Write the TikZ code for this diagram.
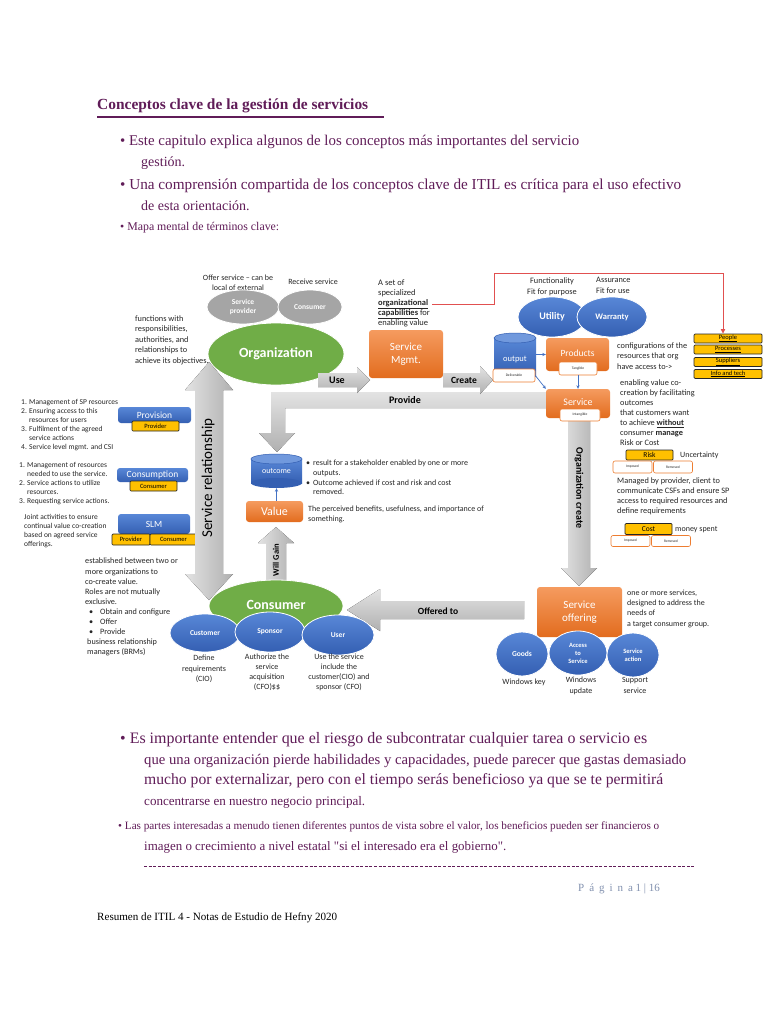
\documentclass[tikz,border=0pt]{standalone}
\usepackage{fontspec}
\setmainfont{Liberation Serif}
\setsansfont{Carlito}
\usetikzlibrary{shapes.geometric,arrows.meta}

\definecolor{tpurple}{RGB}{96,28,88}
\definecolor{ink}{RGB}{38,38,38}
\definecolor{orng}{RGB}{237,125,49}
\definecolor{orngL}{RGB}{245,155,95}
\definecolor{orngD}{RGB}{226,108,30}
\definecolor{blu}{RGB}{68,114,196}
\definecolor{bluL}{RGB}{88,135,215}
\definecolor{bluD}{RGB}{52,95,178}
\definecolor{grn}{RGB}{112,173,71}
\definecolor{gry}{RGB}{165,165,165}
\definecolor{yel}{RGB}{255,192,0}
\definecolor{pagecol}{RGB}{130,145,175}
\definecolor{redl}{RGB}{225,80,80}

\newcommand{\fw}[2]{\resizebox{#1pt}{!}{#2}}
\newcommand{\li}[1]{\makebox[8pt][l]{#1}}
\newcommand{\ind}{\hspace*{8pt}}
\newcommand{\fsz}[2]{\fontsize{#1}{#2}\selectfont}

\tikzset{
 sm/.style={inner sep=0pt, text=ink, font=\sffamily\fsz{8}{10}},
 obox/.style={rounded corners=3pt, inner sep=0pt, text=white, top color=orngL, bottom color=orngD, font=\sffamily\fsz{11}{12.5}, align=center},
 bbox/.style={rounded corners=3pt, inner sep=0pt, text=white, top color=bluL, bottom color=bluD, font=\sffamily\fsz{9.5}{11}},
 ybox/.style={fill=yel, draw=black!85, line width=0.7pt, rounded corners=1pt, inner sep=0pt, text=black, font=\sffamily\fsz{6.5}{7}},
 wbox/.style={fill=white, draw=orng, line width=0.6pt, rounded corners=2pt, inner sep=0pt, text=ink, font=\sffamily\fsz{3.6}{4}},
 bell/.style={ellipse, inner sep=0pt, top color=bluL, bottom color=bluD, draw=white, line width=0.8pt, text=white, font=\sffamily\bfseries\fsz{7.5}{9}, align=center},
 gell/.style={ellipse, inner sep=0pt, fill=gry, draw=white, line width=0.8pt, text=white, font=\sffamily\bfseries\fsz{7.5}{9}, align=center},
 grell/.style={ellipse, inner sep=0pt, fill=grn, draw=white, line width=0.8pt, text=white, font=\sffamily\bfseries\fsz{14}{16}},
 harr/.style={top color=gray!22, bottom color=gray!62, draw=none},
 varr/.style={left color=gray!22, right color=gray!62, draw=none},
 alab/.style={inner sep=0pt, text=black, font=\sffamily\bfseries\fsz{10}{11}},
 barr/.style={-{Stealth[length=3.5pt,width=3.2pt]}, draw=blu, line width=0.7pt},
 ser/.style={inner sep=0pt, text=tpurple, anchor=west},
}

\begin{document}
\begin{tikzpicture}[x=1pt,y=-1pt]
\path[use as bounding box, fill=white] (0,0) rectangle (768,1024);

% ---------- top text ----------
\node[ser, font=\bfseries\fsz{14}{16}] (head) at (97,106) {\fw{271}{Conceptos clave de la gestión de servicios}};
\draw[tpurple, line width=1.3pt] (97,117) -- (384,117);
\node[ser, font=\fsz{14}{16}] (b1) at (120,142) {\fw{459}{• Este capitulo explica algunos de los conceptos más importantes del servicio}};
\node[ser, font=\fsz{14}{16}] (b1b) at (141,163) {gestión.};
\node[ser, font=\fsz{14}{16}] (b2) at (120,186) {\fw{561}{• Una comprensión compartida de los conceptos clave de ITIL es crítica para el uso efectivo}};
\node[ser, font=\fsz{14}{16}] (b2b) at (141,206) {de esta orientación.};
\node[ser, font=\fsz{10.5}{12}] (b3) at (120,228) {\fw{159}{• Mapa mental de términos clave:}};

% ---------- block arrows (behind) ----------
\fill[harr] (546,392) -- (271,392) -- (271,433) -- (259,433) -- (277,452) -- (295,433) -- (285,433) -- (285,408) -- (546,408) -- cycle;
\node[alab] (provide) at (405,400) {Provide};
\fill[varr] (568,415) -- (590,415) -- (590,568) -- (597,568) -- (579,586) -- (561,568) -- (568,568) -- cycle;
\node[alab, rotate=-90] (orgcreate) at (579,488) {Organization create};
\fill[harr] (524,601) -- (380,601) -- (380,589) -- (347,610) -- (380,631) -- (380,619) -- (524,619) -- cycle;
\node[alab, font=\sffamily\bfseries\fsz{9.5}{11}] (offered) at (438,611) {Offered to};
\fill[varr] (266,582) -- (266,543) -- (258,543) -- (276,527) -- (294,543) -- (286,543) -- (286,582) -- cycle;
\node[alab, font=\sffamily\bfseries\fsz{8.5}{10}, rotate=90] (willgain) at (276,560) {Will Gain};

% ---------- organization cluster ----------
\node[sm, align=center] (offerlbl) at (238,282.5) {Offer service – can be\\local of external};
\node[sm] (recvlbl) at (313,282) {Receive service};
\node[gell, minimum width=72, minimum height=34] (sprov) at (243,307) {Service\\provider};
\node[gell, minimum width=64, minimum height=34] (scons) at (310,307) {Consumer};
\node[grell, minimum width=136, minimum height=62] (org) at (276,354) {Organization};
\node[sm, anchor=north west, align=left, font=\sffamily\fsz{8.3}{10.5}] (funcs) at (135,315.5) {functions with\\responsibilities,\\authorities, and\\relationships to\\achieve its objectives.};

\fill[harr] (318,373) -- (357,373) -- (357,367) -- (370,380) -- (357,393) -- (357,387) -- (318,387) -- cycle;
\node[alab] (use) at (337,380) {Use};

\node[obox, minimum width=74, minimum height=48] (smgmt) at (406,354) {Service\\Mgmt.};
\node[sm, anchor=north west, align=left, font=\sffamily\fsz{8.5}{10}] (aset) at (378,279.5) {A set of\\specialized\\\textbf{\underline{organizational}}\\\textbf{\underline{capabilities}} for\\enabling value};
\coordinate (rs) at (432,304);

\fill[harr] (443,373) -- (480,373) -- (480,366) -- (493,380) -- (480,394) -- (480,387) -- (443,387) -- cycle;
\node[alab, font=\sffamily\bfseries\fsz{9.5}{11}] (create) at (464,380) {Create};

% output cylinder
\fill[top color=bluL, bottom color=bluD] (494,338) rectangle (536,376);
\fill[bluD] (515,376) ellipse [x radius=21, y radius=5];
\filldraw[fill=bluL!85!white, draw=bluD, line width=0.5pt] (515,338) ellipse [x radius=21, y radius=5];
\node[inner sep=0pt, minimum width=42, minimum height=42, text=white, font=\sffamily\fsz{8.5}{10}] (output) at (515,359) {output};
\node[wbox, minimum width=42, minimum height=13] (deliv) at (514,375.5) {Deliverable};

% utility / warranty
\node[sm, align=center, font=\sffamily\fsz{8.3}{11}] (funlbl) at (552,286.5) {Functionality\\Fit for purpose};
\node[sm, anchor=north west, align=left, font=\sffamily\fsz{8.3}{11}] (asslbl) at (596,277) {Assurance\\Fit for use};
\node[bell, minimum width=68, minimum height=40, font=\sffamily\bfseries\fsz{10}{12}] (util) at (552,317) {Utility};
\node[bell, minimum width=70, minimum height=40, font=\sffamily\bfseries\fsz{8.5}{10}] (warr) at (612,317) {Warranty};

% products / service
\node[obox, minimum width=63, minimum height=33, font=\sffamily\fsz{9.5}{11}] (products) at (577.5,354.5) {\raisebox{3pt}{Products}};
\node[wbox, minimum width=38, minimum height=13] (tang) at (578,368.5) {Tangible};
\node[obox, minimum width=64, minimum height=29, font=\sffamily\fsz{10}{11}] (service) at (578,403.5) {\raisebox{3pt}{Service}};
\node[wbox, minimum width=40, minimum height=12] (intang) at (580,415) {Intangible};
\draw[barr] (output.east |- products.west) -- (products.west);
\draw[barr] (deliv.east) -- (service.north west);
\draw[barr] (tang.south) -- (service.north -| tang.south);

% resources
\node[ybox, minimum width=68, minimum height=9] (people) at (728,338.5) {\underline{People}};
\node[ybox, minimum width=68, minimum height=9] (proc) at (728,349.5) {\underline{Processes}};
\node[ybox, minimum width=68, minimum height=9] (supp) at (728,362) {\underline{Suppliers}};
\node[ybox, minimum width=68, minimum height=9] (info) at (728,374) {\underline{Info and tech}};
\coordinate (redend) at (723,333.5);
\draw[redl, line width=0.8pt, -{Triangle[length=4.5pt,width=4.5pt]}] (rs) -- (494,304) -- (494,273) -- (723,273) -- (redend);

\node[sm, anchor=north west, align=left, font=\sffamily\fsz{8.3}{10.5}] (configs) at (617,342.5) {configurations of the\\resources that org\\have access to->};
\node[sm, anchor=north west, align=left, font=\sffamily\fsz{8.3}{10}] (enab) at (620,379.5) {enabling value co-\\creation by facilitating\\outcomes\\that customers want\\to achieve \textbf{\underline{without}}\\consumer \textbf{manage}\\Risk or Cost};
\node[ybox, minimum width=47, minimum height=10, font=\sffamily\fsz{7.5}{8}] (risk) at (649.5,455) {Risk};
\node[sm, anchor=west] (uncert) at (680,455) {Uncertainty};
\node[wbox, minimum width=39, minimum height=12] (imp1) at (632.5,467) {Imposed};
\node[wbox, minimum width=39, minimum height=12] (rem1) at (673,467) {Removed};
\node[sm, anchor=north west, align=left, font=\sffamily\fsz{8.3}{10}] (managed) at (617,477.5) {Managed by provider, client to\\communicate CSFs and ensure SP\\access to required resources and\\define requirements};
\node[ybox, minimum width=47, minimum height=11, font=\sffamily\fsz{7.5}{8}] (cost) at (648.5,529) {Cost};
\node[sm, anchor=west] (money) at (675,530) {money spent};
\node[wbox, minimum width=39, minimum height=11] (imp2) at (630.5,541) {Imposed};
\node[wbox, minimum width=39, minimum height=11] (rem2) at (671,541) {Removed};

% outcome / value
\fill[top color=bluL, bottom color=bluD] (251,459) rectangle (302,483);
\fill[bluD] (276.5,483) ellipse [x radius=25.5, y radius=5];
\filldraw[fill=bluL!85!white, draw=bluD, line width=0.5pt] (276.5,459) ellipse [x radius=25.5, y radius=5];
\node[inner sep=0pt, minimum width=51, minimum height=34, text=white, font=\sffamily\fsz{8}{10}] (outcome) at (276.5,471) {outcome};
\node[obox, minimum width=57, minimum height=21, font=\sffamily\fsz{12}{13}] (value) at (274.5,511.5) {Value};
\draw[barr] (value.north -| outcome.south) -- (outcome.south);
\node[sm, anchor=north west, align=left, font=\sffamily\fsz{8}{9.7}] (outtxt) at (306,460) {\makebox[7pt][l]{•}result for a stakeholder enabled by one or more\\\hspace*{7pt}outputs.\\\makebox[7pt][l]{•}Outcome achieved if cost and risk and cost\\\hspace*{7pt}removed.};
\node[sm, anchor=north west, align=left, font=\sffamily\fsz{8}{10}] (valtxt) at (308,505.5) {The perceived benefits, usefulness, and importance of\\something.};

% ---------- left side ----------
\node[sm, anchor=north west, align=left, font=\sffamily\fsz{7.5}{9}] (list1) at (21,399.5) {\li{1.}Management of SP resources\\\li{2.}Ensuring access to this\\\ind resources for users\\\li{3.}Fulfilment of the agreed\\\ind service actions\\\li{4.}Service level mgmt. and CSI};
\node[bbox, minimum width=73, minimum height=16] (provision) at (154.5,415) {Provision};
\node[ybox, minimum width=47, minimum height=10] (prov1) at (155.5,426) {Provider};

\node[sm, anchor=north west, align=left, font=\sffamily\fsz{7.5}{8.8}] (list2) at (19,462.5) {\li{1.}Management of resources\\\ind needed to use the service.\\\li{2.}Service actions to utilize\\\ind resources.\\\li{3.}Requesting service actions.};
\node[bbox, minimum width=71, minimum height=14] (consumption) at (152.5,475) {Consumption};
\node[ybox, minimum width=47, minimum height=10] (cons1) at (153.5,486) {Consumer};

\node[sm, anchor=north west, align=left, font=\sffamily\fsz{7.5}{9}] (joint) at (24,514.5) {Joint activities to ensure\\continual value co-creation\\based on agreed service\\offerings.};
\node[bbox, minimum width=72, minimum height=20] (slm) at (154,524) {SLM};
\node[ybox, minimum width=38, minimum height=11] (prov2) at (131,539.5) {Provider};
\node[ybox, minimum width=47, minimum height=11] (cons2) at (173.5,539.5) {Consumer};

\node[sm, anchor=north west, align=left, font=\sffamily\fsz{8.2}{10.1}] (estab) at (85,558) {established between two or\\more organizations to\\co-create value.\\Roles are not mutually\\exclusive.\\\hspace*{4pt}\makebox[11pt][l]{•}Obtain and configure\\\hspace*{4pt}\makebox[11pt][l]{•}Offer\\\hspace*{4pt}\makebox[11pt][l]{•}Provide\\\hspace*{2pt}business relationship\\\hspace*{2pt}managers (BRMs)};

% ---------- consumer cluster ----------
\node[grell, minimum width=134, minimum height=52] (consumer) at (276,606) {\raisebox{2pt}{Consumer}};
\fill[varr] (209,362) -- (233,390) -- (223,390) -- (223,574) -- (233,574) -- (209,600) -- (185,574) -- (195,574) -- (195,390) -- (185,390) -- cycle;
\node[inner sep=0pt, text=black, font=\sffamily\fsz{15}{17}, rotate=90] (servrel) at (208,478) {Service relationship};
\node[bell, minimum width=70, minimum height=38] (customer) at (205,633) {Customer};
\node[bell, minimum width=70, minimum height=40] (sponsor) at (270,632) {Sponsor};
\node[bell, minimum width=72, minimum height=40] (user) at (338,635) {User};
\node[sm, anchor=north, align=center, font=\sffamily\fsz{8}{10.5}] (deflbl) at (204,655) {Define\\requirements\\(CIO)};
\node[sm, anchor=north, align=center, font=\sffamily\fsz{8}{10}] (authlbl) at (267,653.5) {Authorize the\\service\\acquisition\\(CFO)\$\$};
\node[sm, anchor=north, align=center, font=\sffamily\fsz{8}{10}] (uselbl) at (339,653.5) {Use the service\\include the\\customer(CIO) and\\sponsor (CFO)};

% ---------- service offering ----------
\node[obox, minimum width=85, minimum height=50] (offering) at (579.5,612) {Service\\offering};
\node[sm, anchor=north west, align=left, font=\sffamily\fsz{8}{10.3}] (offtxt) at (627,589.5) {one or more services,\\designed to address the\\needs of\\a target consumer group.};
\node[bell, minimum width=52, minimum height=44] (goods) at (522,654) {Goods};
\node[bell, minimum width=58, minimum height=44, font=\sffamily\bfseries\fsz{6.5}{8}] (access) at (578,653) {Access\\to\\Service};
\node[bell, minimum width=52, minimum height=44, font=\sffamily\bfseries\fsz{6.5}{8}] (saction) at (633,655) {Service\\action};
\node[sm] (winkey) at (524,682) {Windows key};
\node[sm, anchor=north, align=center, font=\sffamily\fsz{8}{11}] (winupd) at (581,677) {Windows\\update};
\node[sm, anchor=north, align=center, font=\sffamily\fsz{8}{11}] (support) at (635,677) {Support\\service};

% ---------- bottom text ----------
\node[ser, font=\fsz{14.5}{16}] (p1) at (120,740) {\fw{527}{• Es importante entender que el riesgo de subcontratar cualquier tarea o servicio es}};
\node[ser, font=\fsz{13.5}{16}] (p2) at (144,761) {\fw{542}{que una organización pierde habilidades y capacidades, puede parecer que gastas demasiado}};
\node[ser, font=\fsz{14.5}{16}] (p3) at (144,781) {\fw{519}{mucho por externalizar, pero con el tiempo serás beneficioso ya que se te permitirá}};
\node[ser, font=\fsz{12}{14}] (p4) at (144,802) {\fw{221}{concentrarse en nuestro negocio principal.}};
\node[ser, font=\fsz{10}{12}] (p5) at (118,827) {\fw{541}{• Las partes interesadas a menudo tienen diferentes puntos de vista sobre el valor, los beneficios pueden ser financieros o}};
\node[ser, font=\fsz{15}{17}] (p6) at (144,847) {\fw{362}{\addfontfeature{Ligatures=TeXOff}imagen o crecimiento a nivel estatal "si el interesado era el gobierno".}};
\draw[tpurple, dash pattern=on 3pt off 1.6pt, line width=0.6pt] (144,866) -- (695,866);

\node[anchor=west, inner sep=0pt, text=pagecol, font=\fsz{11}{12}] (page) at (578,889) {{\addfontfeature{LetterSpace=45}Página} 1 | 16};
\node[anchor=west, inner sep=0pt, text=black, font=\fsz{10.5}{12}] (footer) at (97,918) {\fw{240}{Resumen de ITIL 4 - Notas de Estudio de Hefny 2020}};
\end{tikzpicture}
\end{document}
